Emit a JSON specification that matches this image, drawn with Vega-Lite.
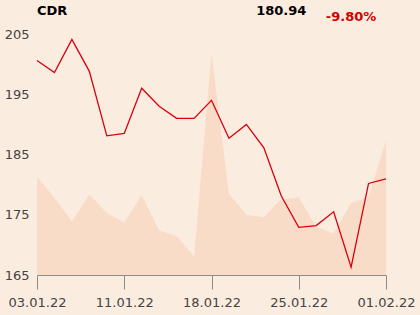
{
  "$schema": "https://vega.github.io/schema/vega-lite/v6.json",
  "width": 349,
  "height": 241,
  "autosize": "none",
  "padding": {"left": 37, "top": 34, "right": 34, "bottom": 40},
  "background": "#fbece0",
  "config": {
    "view": {"stroke": null},
    "font": "DejaVu Sans",
    "axis": {"labelFont": "DejaVu Sans", "labelFontSize": 13, "labelColor": "#444444"}
  },
  "data": {
    "values": [
      {"date": "2022-01-03", "close": 200.6, "volume": 491},
      {"date": "2022-01-04", "close": 198.6, "volume": 383},
      {"date": "2022-01-05", "close": 204.1, "volume": 267},
      {"date": "2022-01-07", "close": 198.8, "volume": 402},
      {"date": "2022-01-10", "close": 188.1, "volume": 309},
      {"date": "2022-01-11", "close": 188.5, "volume": 262},
      {"date": "2022-01-12", "close": 196.0, "volume": 397},
      {"date": "2022-01-13", "close": 193.0, "volume": 223},
      {"date": "2022-01-14", "close": 191.0, "volume": 193},
      {"date": "2022-01-17", "close": 191.0, "volume": 93},
      {"date": "2022-01-18", "close": 194.0, "volume": 1105},
      {"date": "2022-01-19", "close": 187.7, "volume": 405},
      {"date": "2022-01-20", "close": 190.0, "volume": 300},
      {"date": "2022-01-21", "close": 186.1, "volume": 287},
      {"date": "2022-01-24", "close": 178.1, "volume": 378},
      {"date": "2022-01-25", "close": 172.9, "volume": 386},
      {"date": "2022-01-26", "close": 173.2, "volume": 242},
      {"date": "2022-01-27", "close": 175.5, "volume": 206},
      {"date": "2022-01-28", "close": 166.3, "volume": 359},
      {"date": "2022-01-31", "close": 180.2, "volume": 388},
      {"date": "2022-02-01", "close": 180.94, "volume": 670}
    ]
  },
  "encoding": {
    "x": {
      "field": "date",
      "type": "ordinal",
      "scale": {"type": "point", "padding": 0},
      "axis": {
        "title": null,
        "values": ["2022-01-03", "2022-01-11", "2022-01-18", "2022-01-25", "2022-02-01"],
        "labelExpr": "utcFormat(toDate(datum.value), '%d.%m.%y')",
        "labelAngle": 0,
        "domainColor": "#8c8c8c",
        "tickColor": "#8c8c8c",
        "tickSize": 14,
        "labelPadding": 7,
        "grid": false
      }
    }
  },
  "layer": [
    {
      "mark": {"type": "area", "color": "#f8dcc8", "opacity": 1},
      "encoding": {
        "y": {"field": "volume", "type": "quantitative", "scale": {"domain": [0, 1200], "nice": false}, "axis": null}
      }
    },
    {
      "layer": [
        {
          "mark": {"type": "line", "color": "#d8000e", "strokeWidth": 1.3},
          "encoding": {
            "y": {
              "field": "close",
              "type": "quantitative",
              "scale": {"domain": [165, 205], "nice": false, "zero": false},
              "axis": {
                "title": null,
                "values": [165, 175, 185, 195, 205],
                "domain": false,
                "ticks": false,
                "labelPadding": 8,
                "gridColor": "#b3b3b3",
                "gridWidth": 1,
                "zindex": 1
              }
            }
          }
        },
        {
          "data": {"values": [{"label": "CDR"}]},
          "mark": {"type": "text", "align": "left", "baseline": "alphabetic", "fontWeight": "bold", "fontSize": 13, "color": "#000000", "clip": false},
          "encoding": {
            "x": {"datum": "2022-01-03"},
            "y": {"datum": 208.2, "type": "quantitative"},
            "text": {"field": "label"}
          }
        },
        {
          "data": {"values": [{"label": "180.94"}]},
          "mark": {"type": "text", "align": "center", "baseline": "alphabetic", "fontWeight": "bold", "fontSize": 13, "color": "#000000", "clip": false},
          "encoding": {
            "x": {"datum": "2022-01-24"},
            "y": {"datum": 208.2, "type": "quantitative"},
            "text": {"field": "label"}
          }
        },
        {
          "data": {"values": [{"label": "-9.80%"}]},
          "mark": {"type": "text", "align": "center", "baseline": "alphabetic", "fontWeight": "bold", "fontSize": 13, "color": "#d40000", "clip": false},
          "encoding": {
            "x": {"datum": "2022-01-28"},
            "y": {"datum": 207.2, "type": "quantitative"},
            "text": {"field": "label"}
          }
        }
      ]
    }
  ],
  "resolve": {"scale": {"y": "independent"}}
}
